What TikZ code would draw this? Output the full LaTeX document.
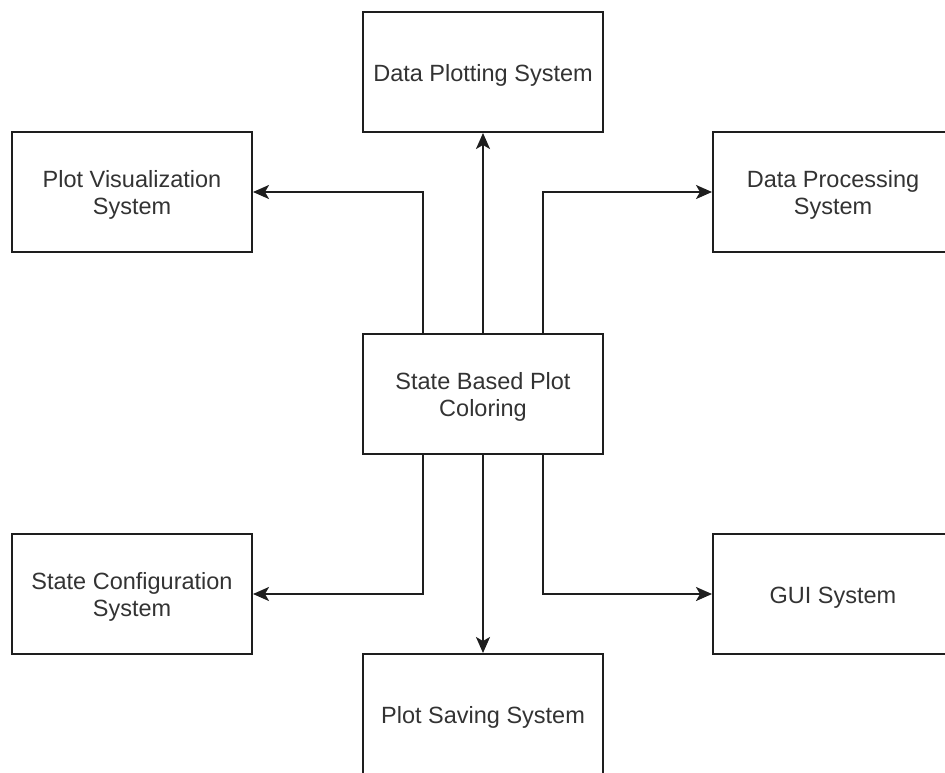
\documentclass[tikz,border=0pt]{standalone}
\usepackage{fontspec}
\setmainfont{Liberation Sans}
\usetikzlibrary{arrows.meta}
\definecolor{txt}{HTML}{333333}
\definecolor{ln}{HTML}{1E1E1E}
\newcommand{\bxtext}[1]{\raisebox{-4pt}[\height][\depth]{\begin{tabular}{@{}c@{}}#1\end{tabular}}}
\tikzset{
  box/.style={draw=ln, line width=2pt, fill=white, minimum width=240pt, minimum height=120pt,
    inner sep=0pt, text=txt, font=\fontsize{23.5pt}{27pt}\selectfont},
  arr/.style={draw=ln, line width=2pt, -{Stealth[length=16pt,width=14pt,inset=4pt]}}
}
\begin{document}
\begin{tikzpicture}[x=1pt,y=-1pt]
\clip (0,0) rectangle (945,772);
\fill[white] (0,0) rectangle (945,772);
\node[box] (plot) at (483,72) {\bxtext{Data Plotting System}};
\node[box] (vis) at (132,192) {\bxtext{Plot Visualization\\System}};
\node[box] (proc) at (833,192) {\bxtext{Data Processing\\System}};
\node[box] (core) at (483,393.5) {\bxtext{State Based Plot\\Coloring}};
\node[box] (config) at (132,594) {\bxtext{State Configuration\\System}};
\node[box] (gui) at (833,594) {\bxtext{GUI System}};
\node[box] (save) at (483,714) {\bxtext{Plot Saving System}};
\draw[arr] ([xshift=-60pt]core.north) |- (vis.east);
\draw[arr] (core.north) -- (plot.south);
\draw[arr] ([xshift=60pt]core.north) |- (proc.west);
\draw[arr] ([xshift=-60pt]core.south) |- (config.east);
\draw[arr] (core.south) -- (save.north);
\draw[arr] ([xshift=60pt]core.south) |- (gui.west);
\end{tikzpicture}
\end{document}
